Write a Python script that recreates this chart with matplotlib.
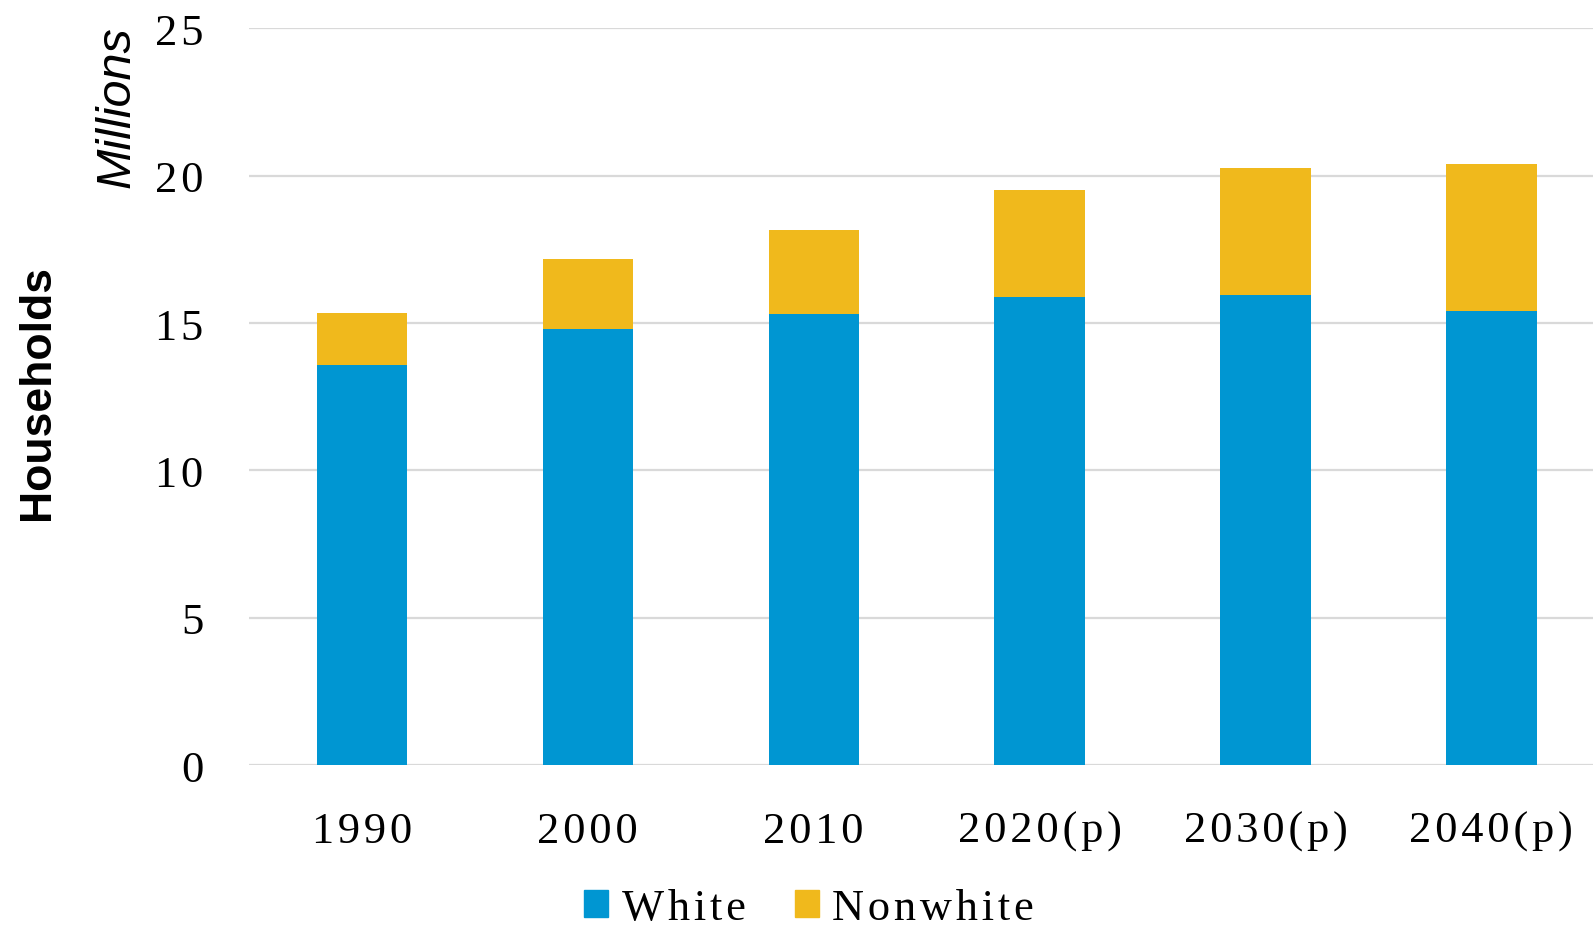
import matplotlib
matplotlib.use("Agg")
import matplotlib.pyplot as plt
from matplotlib.patches import Patch

years = ["1990", "2000", "2010", "2020(p)", "2030(p)", "2040(p)"]
white = [13.56, 14.79, 15.31, 15.90, 15.96, 15.41]
nonwhite = [1.77, 2.38, 2.84, 3.60, 4.29, 4.98]
yticks = [0, 5, 10, 15, 20, 25]

blue = "#0096D2"
gold = "#F0B91C"
serif = ["Liberation Serif", "DejaVu Serif"]


def spaced(s):
    # Excel renders these labels with loose letter spacing
    return "\u200a".join(s)


fig = plt.figure(figsize=(15.93, 9.29), dpi=100)
ax = fig.add_axes([249 / 1593, 1 - 766 / 929, 1 - 249 / 1593, (766 - 29.4) / 929])

x = range(len(years))
ax.bar(x, white, width=0.4, color=blue, zorder=3)
ax.bar(x, nonwhite, width=0.4, bottom=white, color=gold, zorder=3)

ax.set_ylim(0, 25)
ax.set_xlim(-0.5, 5.45)
ax.set_yticks(yticks)
ax.set_yticklabels([spaced(str(t)) for t in yticks])
ax.set_xticks(list(x))
ax.set_xticklabels([spaced(y) for y in years])
ax.grid(axis="y", color="#D9D9D9", linewidth=1.6, zorder=0)
for s in ax.spines.values():
    s.set_visible(False)
ax.tick_params(axis="both", length=0, labelsize=32)
ax.tick_params(axis="y", pad=33)
ax.tick_params(axis="x", pad=33)
for lab in ax.get_xticklabels() + ax.get_yticklabels():
    lab.set_fontfamily(serif)

fig.text(38 / 1593, 1 - 393 / 929, "Households", rotation=90, ha="center", va="center",
         fontsize=32, fontweight="bold", fontfamily="Liberation Sans")
fig.text(117 / 1593, 1 - 107 / 929, "Millions", rotation=90, ha="center", va="center",
         fontsize=35, fontstyle="italic", fontfamily="Liberation Sans")

handles = [Patch(color=blue, label=spaced("White")), Patch(color=gold, label=spaced("Nonwhite"))]
fig.legend(handles=handles, loc="center", bbox_to_anchor=(809 / 1593, 1 - 909 / 929), ncol=2,
           frameon=False, handlelength=0.55, handleheight=0.55, handletextpad=0.3,
           columnspacing=1.1, borderpad=0.1, prop={"family": serif, "size": 32})

fig.savefig("out.png", dpi=100)
